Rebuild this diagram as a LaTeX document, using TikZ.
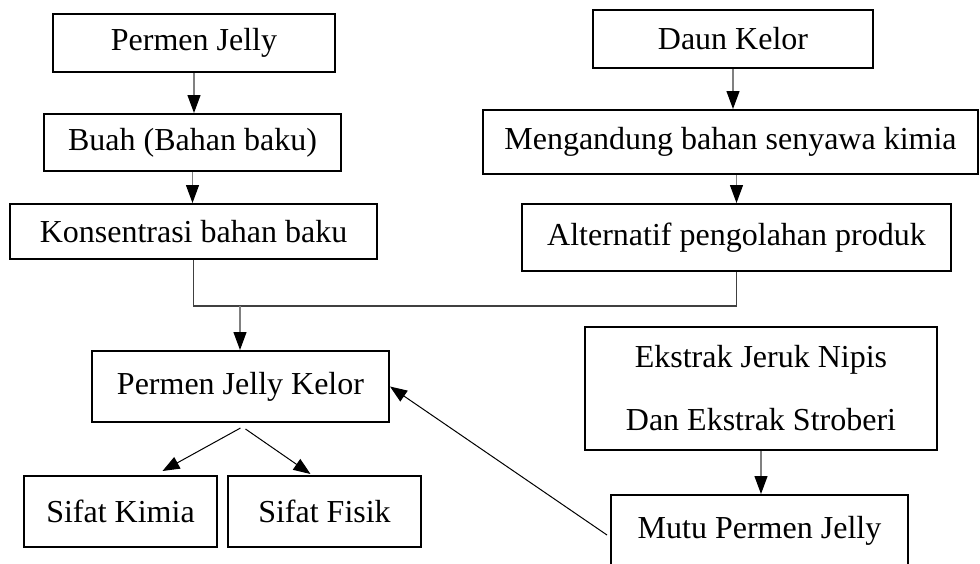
\documentclass[tikz,border=0pt]{standalone}
\usepackage{fontspec}
\setmainfont{Liberation Serif}
\usetikzlibrary{arrows.meta}

\tikzset{
  box/.style={draw, line width=2pt, inner sep=0pt, font=\fontsize{32}{38}\selectfont},
  vline/.style={draw=gray, line width=1.2pt, -{Triangle[width=13pt,length=18pt,color=black]}},
  dline/.style={draw=black, line width=1pt, -{Triangle[width=13pt,length=17pt]}},
  merge/.style={draw=darkgray, line width=1.5pt},
}

\begin{document}
\begin{tikzpicture}[x=1pt, y=-1pt]

 \useasboundingbox (0,0) rectangle (980,563);

	%left column
    \foreach \name/\cx/\cy/\w/\h/\txt in { pj/194/43/282/58/Permen Jelly, buah/192.5/142.5/297/57/Buah (Bahan baku), kons/193.5/231.5/367/55/Konsentrasi bahan baku }{
         \node[box, minimum width=\w, minimum height=\h] (\name) at (\cx,\cy) {\txt};
    }

	%right column
    \foreach \name/\cx/\cy/\w/\h/\txt in { daun/733/39/280/58/Daun Kelor, meng/730.5/142/495/64/Mengandung bahan senyawa kimia, alt/736.5/237.5/429/67/Alternatif pengolahan produk }{
         \node[box, minimum width=\w, minimum height=\h] (\name) at (\cx,\cy) {\txt};
    }

	%bottom
    \foreach \name/\cx/\cy/\w/\h/\txt in { kelor/240.5/386.5/297/71/Permen Jelly Kelor, kimia/120.5/511.5/193/71/Sifat Kimia, fisik/324.5/511.5/193/71/Sifat Fisik, mutu/759.5/531/297/72/Mutu Permen Jelly }{
         \node[box, minimum width=\w, minimum height=\h] (\name) at (\cx,\cy) {\txt};
    }
 \node[box, minimum width=352, minimum height=123, align=center, font=\fontsize{32}{63}\selectfont] (ekstrak) at (761,388.5) {Ekstrak Jeruk Nipis\\Dan Ekstrak Stroberi};

	%arrows
 \draw[vline] (pj.south) -- (pj.south |- buah.north);
 \draw[vline] (buah.south) -- (buah.south |- kons.north);
 \draw[vline] (daun.south) -- (daun.south |- meng.north);
 \draw[vline] (alt.north |- meng.south) -- (alt.north);
 \draw[vline] (ekstrak.south) -- (ekstrak.south |- mutu.north);

 \coordinate (mj) at (240,306);
 \draw[merge] (kons.south) |- (mj) -| (alt.south);
 \draw[vline] (mj) -- (mj |- kelor.north);

 \draw[dline] ([yshift=-5pt]kelor.south) -- ([xshift=42pt,yshift=4pt]kimia.north);
 \draw[dline] ([xshift=5pt,yshift=-6pt]kelor.south) -- ([xshift=-14pt,yshift=1pt]fisik.north);
 \draw[dline] ([xshift=-3pt,yshift=-4pt]mutu.west) -- (kelor.east);

\end{tikzpicture}
\end{document}
